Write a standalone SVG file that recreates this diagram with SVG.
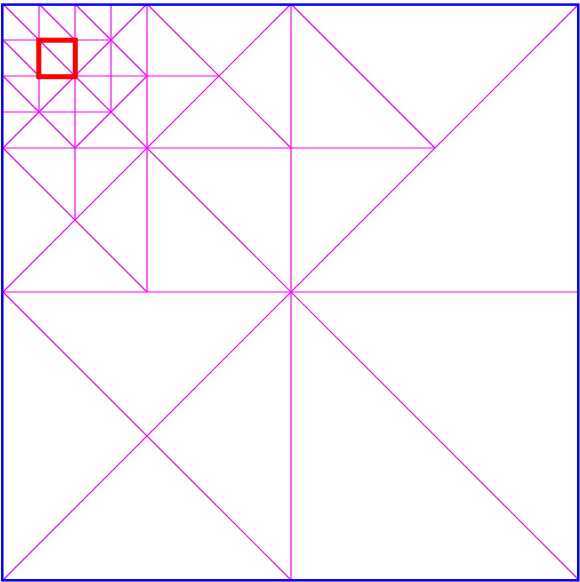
<svg xmlns="http://www.w3.org/2000/svg" width="580" height="582" viewBox="0 0 580 582">
<style>
.m{stroke:#ff00ff;stroke-width:1.2;fill:none}
.b{stroke:#0000ff;stroke-width:2.5;fill:none}
.r{stroke:#ff0000;stroke-width:5;fill:none}
</style>
<rect x="0" y="0" width="580" height="582" fill="#ffffff"/>
<g id="mesh" class="m">
<line x1="291" y1="4" x2="291" y2="580"/>
<line x1="147" y1="4" x2="147" y2="292"/>
<line x1="75" y1="4" x2="75" y2="220"/>
<line x1="39" y1="4" x2="39" y2="112"/>
<line x1="111" y1="4" x2="111" y2="112"/>
<line x1="3" y1="292" x2="579" y2="292"/>
<line x1="3" y1="148" x2="435" y2="148"/>
<line x1="3" y1="76" x2="219" y2="76"/>
<line x1="3" y1="40" x2="111" y2="40"/>
<line x1="3" y1="112" x2="111" y2="112"/>
<line x1="3" y1="4" x2="579" y2="580"/>
<line x1="579" y1="4" x2="3" y2="580"/>
<line x1="39" y1="4" x2="75" y2="40"/>
<line x1="3" y1="40" x2="39" y2="76"/>
<line x1="75" y1="4" x2="147" y2="76"/>
<line x1="147" y1="4" x2="3" y2="148"/>
<line x1="3" y1="76" x2="75" y2="148"/>
<line x1="147" y1="76" x2="75" y2="148"/>
<line x1="147" y1="4" x2="291" y2="148"/>
<line x1="291" y1="4" x2="3" y2="292"/>
<line x1="3" y1="148" x2="147" y2="292"/>
<line x1="3" y1="292" x2="291" y2="580"/>
<line x1="291" y1="4" x2="435" y2="148"/>
</g>
<rect id="border" class="b" x="2.3" y="4.6" width="576" height="575.7"/>
<rect id="highlight" class="r" x="38.8" y="40.2" width="36.5" height="36.5"/>
</svg>
